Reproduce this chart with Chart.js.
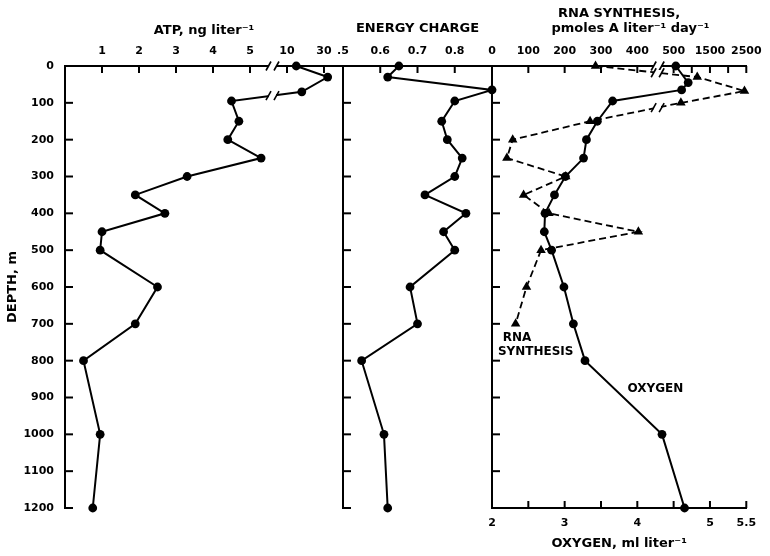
<!DOCTYPE html>
<html><head><meta charset="utf-8">
<script src="https://cdn.jsdelivr.net/npm/chart.js@4.4.1/dist/chart.umd.min.js"></script>
<style>
html,body{margin:0;padding:0;background:#fff;}
#wrap{position:relative;width:770px;height:556px;}
canvas{position:absolute;left:0;top:0;}
</style></head><body>
<div id="wrap">
<canvas id="c1" width="770" height="556"></canvas>
<canvas id="c2" width="770" height="556"></canvas>
<canvas id="c3" width="770" height="556"></canvas>
</div>
<script>
// ---------------- data ----------------
const depthTicks = [0,100,200,300,400,500,600,700,800,900,1000,1100,1200];
const depthTickLabels = ['0','100','200','300','400','500','600','700','800','900','1000','1100','1200'];

const atpDepth = [0,30,70,95,150,200,250,300,350,400,450,500,600,700,800,1000,1200];
const atpValue = [15,32,18,4.5,4.7,4.4,5.3,3.3,1.9,2.7,1.0,0.95,2.5,1.9,0.5,0.95,0.75];
const atpTicks = [1,2,3,4,5,10,30];
const atpTickLabels = ['1','2','3','4','5','10','30'];

const ecDepth = [0,30,65,95,150,200,250,300,350,400,450,500,600,700,800,1000,1200];
const ecValue = [0.65,0.62,0.9,0.8,0.765,0.78,0.82,0.8,0.72,0.83,0.77,0.8,0.68,0.70,0.55,0.61,0.62];
const ecTicks = [0.5,0.6,0.7,0.8];
const ecTickLabels = ['.5','0.6','0.7','0.8'];

const rnaDepth = [0,30,68,100,150,200,250,300,350,400,450,500,600,700];
const rnaValue = [285,1150,2450,700,270,57,41,203,87,157,403,135,95,65];
const rnaTicks = [0,100,200,300,400,500,1000,1500,2000,2500];
const rnaTickLabels = ['0','100','200','300','400','500','','1500','','2500'];

const oxyDepth = [0,45,65,95,150,200,250,300,350,400,450,500,600,700,800,1000,1200];
const oxyValue = [4.53,4.70,4.61,3.66,3.45,3.30,3.26,3.01,2.86,2.73,2.72,2.82,2.99,3.12,3.28,4.34,4.65];
const oxyTicks = [2,2.5,3,3.5,4,4.5,5,5.5];
const oxyTickLabels = ['2','','3','','4','','5','5.5'];

// broken-axis definitions: [value, fraction of axis length]
const SCALE_KNOTS = {
  xatp: [[0,0],[5.5,0.732],[5.6,0.7694],[40.3,1]],
  xrna: [[0,0],[445,0.6357],[450,0.7071],[2500,1]]
};

// ---------------- custom broken scale ----------------
class BrokenScale extends Chart.LinearScale {
  static id = 'broken';
  static defaults = {};
  _frac(value) {
    const k = SCALE_KNOTS[this.id];
    let i = 1;
    while (i < k.length - 1 && value > k[i][0]) i++;
    const a = k[i-1], b = k[i];
    return a[1] + (value - a[0]) * (b[1] - a[1]) / (b[0] - a[0]);
  }
  getPixelForValue(value) {
    if (value === null || value === undefined || isNaN(value)) return NaN;
    return this.getPixelForDecimal(this._frac(value));
  }
  getValueForPixel(pixel) {
    const d = this.getDecimalForPixel(pixel);
    const k = SCALE_KNOTS[this.id];
    let i = 1;
    while (i < k.length - 1 && d > k[i][1]) i++;
    const a = k[i-1], b = k[i];
    return a[0] + (d - a[1]) * (b[0] - a[0]) / (b[1] - a[1]);
  }
}
Chart.register(BrokenScale);

Chart.defaults.font.family = "'DejaVu Sans', sans-serif";
Chart.defaults.font.weight = 'bold';
Chart.defaults.font.size = 11;
Chart.defaults.color = '#000';

// ---------------- plugins ----------------
function slashGap(ctx, x, y) {
  ctx.clearRect(x - 3.5, y - 3.2, 7, 6.4);
  [-4, 4].forEach(dx => {
    ctx.beginPath();
    ctx.moveTo(x + dx - 2.5, y + 4.5);
    ctx.lineTo(x + dx + 2.5, y - 4.5);
    ctx.stroke();
  });
}
const framePlugin = {
  id: 'frame',
  afterDraw(chart) {
    const ctx = chart.ctx, a = chart.chartArea;
    ctx.save();
    ctx.strokeStyle = '#000';
    ctx.lineWidth = 2;
    Object.values(chart.scales).forEach(s => {
      if (!s.options.display) return;
      s.ticks.forEach((t, i) => {
        const p = s.getPixelForTick(i);
        ctx.beginPath();
        if (s.position === 'left') { ctx.moveTo(a.left, p); ctx.lineTo(a.left + 8, p); }
        else if (s.position === 'top') { ctx.moveTo(p, a.top); ctx.lineTo(p, a.top + 7); }
        else if (s.position === 'bottom') { ctx.moveTo(p, a.bottom); ctx.lineTo(p, a.bottom - 7); }
        ctx.stroke();
      });
    });
    ctx.lineWidth = 1.6;
    Object.values(chart.scales).forEach(s => {
      const k = SCALE_KNOTS[s.id];
      if (!k) return;
      const lowV = k[1][0], highV = k[2][0];
      const bx = s.getPixelForValue(lowV) + 4;
      slashGap(ctx, bx, s.position === 'top' ? a.top : a.bottom);
      chart.data.datasets.forEach((ds, di) => {
        if (ds.xAxisID !== s.id) return;
        const pts = chart.getDatasetMeta(di).data;
        for (let i = 1; i < ds.data.length; i++) {
          const v0 = ds.data[i-1].x, v1 = ds.data[i].x;
          if ((v0 <= lowV && v1 >= highV) || (v1 <= lowV && v0 >= highV)) {
            const p0 = pts[i-1], p1 = pts[i];
            const t = (bx - p0.x) / (p1.x - p0.x);
            slashGap(ctx, bx, p0.y + t * (p1.y - p0.y));
          }
        }
      });
    });
    ctx.restore();
  }
};
const notes = [
  {text: 'RNA', ox: 2.149, depth: 738},
  {text: 'SYNTHESIS', ox: 2.081, depth: 777},
  {text: 'OXYGEN', ox: 3.865, depth: 877}
];
const notePlugin = {
  id: 'notes',
  afterDraw(chart) {
    const ctx = chart.ctx, xs = chart.scales.x, ys = chart.scales.y;
    ctx.save();
    ctx.fillStyle = '#000';
    ctx.font = "bold 12px 'DejaVu Sans', sans-serif";
    ctx.textAlign = 'left';
    ctx.textBaseline = 'middle';
    notes.forEach(n => ctx.fillText(n.text, xs.getPixelForValue(n.ox), ys.getPixelForValue(n.depth)));
    ctx.restore();
  }
};

// ---------------- helpers ----------------
const noGrid = {display: false, drawTicks: false};
const border = {display: true, color: '#000', width: 2};
function yScale(showLabels, width) {
  return {
    type: 'linear', position: 'left', reverse: true, min: 0, max: 1200,
    afterBuildTicks: s => { s.ticks = depthTicks.map(v => ({value: v})); },
    afterFit: s => { s.width = width; },
    ticks: {display: showLabels, autoSkip: false, padding: 11, callback: (v, i) => depthTickLabels[i]},
    grid: noGrid, border,
    title: showLabels
      ? {display: true, text: 'DEPTH, m', font: {size: 13, weight: 'bold'}, padding: {top: 5.2, bottom: 0}}
      : {display: false}
  };
}
function xScale(type, position, min, max, vals, labels, title, titlePad, lineHeight, height) {
  return {
    type, position, min, max,
    afterBuildTicks: s => { s.ticks = vals.map(v => ({value: v})); },
    afterFit: s => { s.height = height; },
    ticks: {autoSkip: false, maxRotation: 0, minRotation: 0, padding: 8.4, callback: (v, i) => labels[i]},
    grid: noGrid, border,
    title: {display: true, text: title, font: {size: 13, weight: 'bold', lineHeight: lineHeight}, padding: titlePad}
  };
}
function series(depths, values, axis, style) {
  return Object.assign({
    data: depths.map((d, i) => ({x: values[i], y: d})),
    xAxisID: axis, yAxisID: 'y', showLine: true, tension: 0, clip: false,
    borderColor: '#000', backgroundColor: '#000', borderWidth: 2,
    pointRadius: 4.4, pointBorderWidth: 0, pointStyle: 'circle'
  }, style || {});
}
function baseOptions(padding, scales) {
  return {
    responsive: false, animation: false, events: [],
    layout: {padding},
    plugins: {legend: {display: false}, tooltip: {enabled: false}},
    scales
  };
}

// ---------------- panel 1: ATP ----------------
new Chart(document.getElementById('c1'), {
  type: 'scatter',
  data: {datasets: [series(atpDepth, atpValue, 'xatp')]},
  options: baseOptions({left: 0, right: 427, top: 0, bottom: 48}, {
    xatp: xScale('broken', 'top', 0, 40.3, atpTicks, atpTickLabels, 'ATP, ng liter\u207B\u00B9', {top: 23.2, bottom: 0}, 1.2, 66),
    y: yScale(true, 65)
  }),
  plugins: [framePlugin]
});

// ---------------- panel 2: Energy charge ----------------
new Chart(document.getElementById('c2'), {
  type: 'scatter',
  data: {datasets: [series(ecDepth, ecValue, 'xec')]},
  options: baseOptions({left: 343, right: 278, top: 0, bottom: 48}, {
    xec: xScale('linear', 'top', 0.5, 0.9, ecTicks, ecTickLabels, 'ENERGY CHARGE', {top: 21.2, bottom: 0}, 1.2, 66),
    y: yScale(false, 0)
  }),
  plugins: [framePlugin]
});

// ---------------- panel 3: RNA synthesis & oxygen ----------------
new Chart(document.getElementById('c3'), {
  type: 'scatter',
  data: {datasets: [
    series(rnaDepth, rnaValue, 'xrna', {borderDash: [7, 4], borderWidth: 1.8, pointStyle: 'triangle', pointRadius: 5.5}),
    series(oxyDepth, oxyValue, 'x')
  ]},
  options: baseOptions({left: 492, right: 19, top: 0, bottom: 0}, {
    xrna: xScale('broken', 'top', 0, 2500, rnaTicks, rnaTickLabels,
      ['RNA SYNTHESIS,', '     pmoles A liter\u207B\u00B9 day\u207B\u00B9'], {top: 6.5, bottom: 0}, '15px', 66),
    x: xScale('linear', 'bottom', 2, 5.5, oxyTicks, oxyTickLabels, 'OXYGEN, ml liter\u207B\u00B9', {top: 0, bottom: 4.2}, 1.2, 48),
    y: yScale(false, 0)
  }),
  plugins: [framePlugin, notePlugin]
});
</script>
</body></html>
